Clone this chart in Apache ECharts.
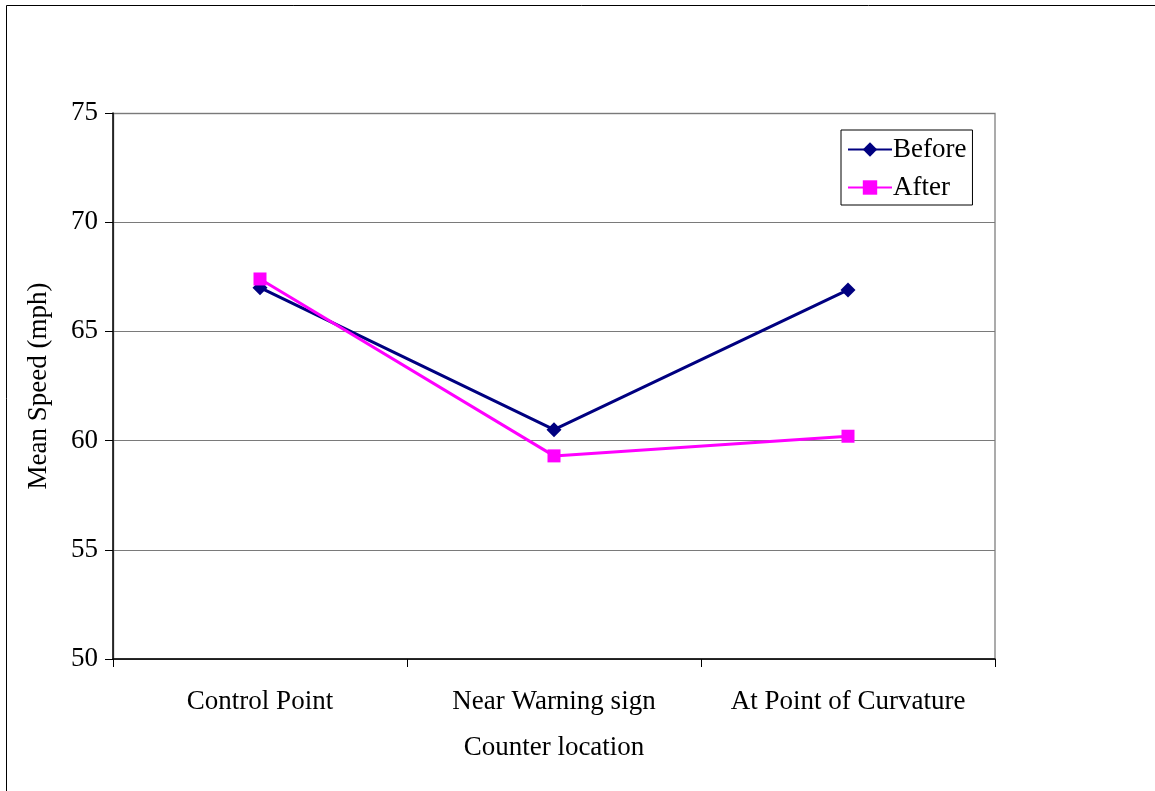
<!DOCTYPE html>
<html>
<head>
<meta charset="utf-8">
<script src="https://cdn.jsdelivr.net/npm/echarts@6/dist/echarts.min.js"></script>
<style>
html,body{margin:0;padding:0;background:#fff;}
#chart{width:1155px;height:791px;}
</style>
</head>
<body>
<div id="chart"></div>
<script>
// Mean speed at each counter location, before and after treatment
const locations = ['Control Point', 'Near Warning sign', 'At Point of Curvature'];
const beforeSpeeds = [67.0, 60.5, 66.9];
const afterSpeeds = [67.4, 59.3, 60.2];
const yTicks = [50, 55, 60, 65, 70, 75];

const FONT = 'Liberation Serif';
const FS = 27;
const chart = echarts.init(document.getElementById('chart'));

chart.setOption({
  backgroundColor: '#fff',
  animation: false,
  textStyle: { fontFamily: FONT, color: '#000' },
  graphic: [
    // outer chart frame (extends past the canvas on right and bottom)
    { type: 'rect', shape: { x: 6.5, y: 5.5, width: 1300, height: 900 },
      style: { fill: 'none', stroke: '#000', lineWidth: 1 }, silent: true, z: -1 },
    // plot area border
    { type: 'rect', shape: { x: 113.5, y: 113.5, width: 881.5, height: 545.5 },
      style: { fill: 'none', stroke: '#909090', lineWidth: 1.5 }, silent: true, z: 0 }
  ],
  grid: { left: 113, top: 113, width: 882, height: 546, containLabel: false },
  legend: {
    left: 841, top: 130,
    width: 131,
    orient: 'vertical',
    backgroundColor: '#fff',
    borderColor: '#000', borderWidth: 1, borderRadius: 0,
    padding: [6, 6, 4, 6],
    itemGap: 11,
    itemWidth: 44, itemHeight: 18,
    textStyle: { fontFamily: FONT, fontSize: FS, color: '#000', padding: [0, 0, 0, -4] },
    data: ['Before', 'After']
  },
  xAxis: {
    type: 'category',
    data: locations,
    boundaryGap: true,
    name: 'Counter location',
    nameLocation: 'middle',
    nameGap: 75,
    nameTextStyle: { fontFamily: FONT, fontSize: FS, color: '#000' },
    axisLine: { show: true, lineStyle: { color: '#000', width: 1.5 } },
    axisTick: { show: true, interval: 0, inside: false, length: 8, alignWithLabel: false, lineStyle: { color: '#000', width: 1 } },
    axisLabel: { interval: 0, fontFamily: FONT, fontSize: FS, color: '#000', margin: 29 },
    splitLine: { show: false }
  },
  yAxis: {
    type: 'value',
    min: 50, max: 75, interval: 5,
    name: 'Mean Speed (mph)',
    nameLocation: 'middle',
    nameGap: 61,
    nameRotate: 90,
    nameTextStyle: { fontFamily: FONT, fontSize: FS, color: '#000' },
    axisLine: { show: true, lineStyle: { color: '#000', width: 1.5 } },
    axisTick: { show: true, inside: false, length: 8, lineStyle: { color: '#000', width: 1 } },
    axisLabel: {
      fontFamily: FONT, fontSize: FS, color: '#000', margin: 15,
      formatter: v => (yTicks.indexOf(v) >= 0 ? String(v) : '')
    },
    splitLine: { show: true, lineStyle: { color: '#7a7a7a', width: 1 } }
  },
  series: [
    {
      name: 'Before',
      type: 'line',
      data: beforeSpeeds,
      symbol: 'diamond',
      symbolSize: 15,
      showAllSymbol: true,
      lineStyle: { color: '#000080', width: 3 },
      itemStyle: { color: '#000080', borderWidth: 0 },
      z: 3
    },
    {
      name: 'After',
      type: 'line',
      data: afterSpeeds,
      symbol: 'rect',
      symbolSize: 13,
      showAllSymbol: true,
      lineStyle: { color: '#FF00FF', width: 3 },
      itemStyle: { color: '#FF00FF', borderWidth: 0 },
      z: 4
    }
  ]
});
</script>
</body>
</html>
